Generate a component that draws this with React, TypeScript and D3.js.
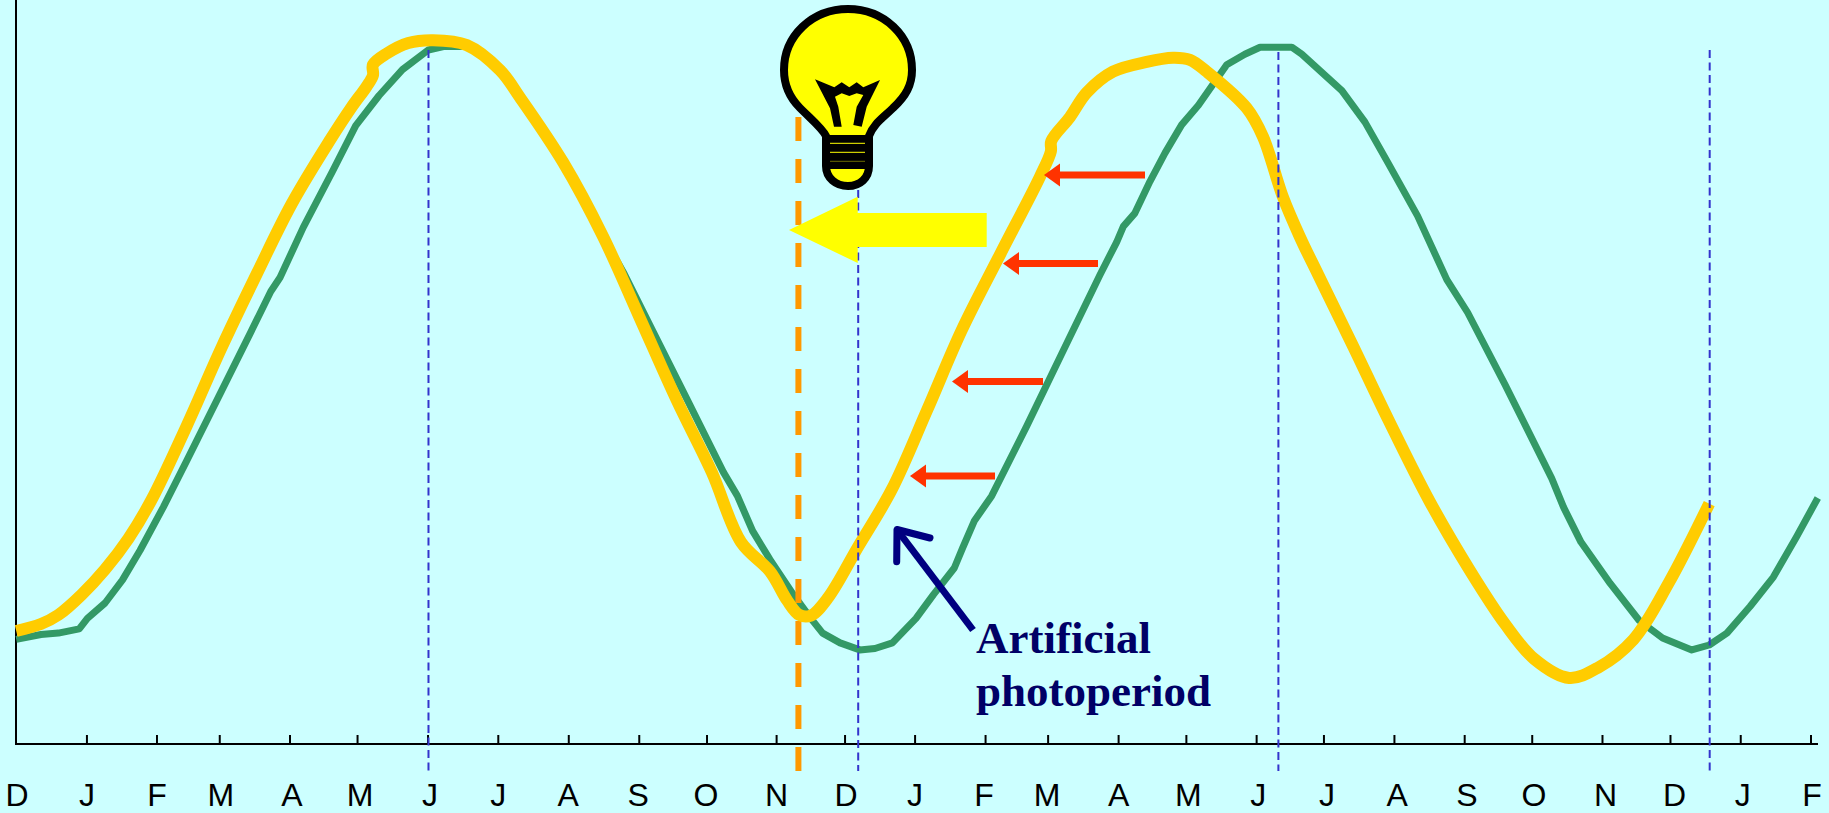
import React from "react";
import * as d3 from "d3";

// Days since the first December tick, and relative day length (0 = axis, 100 = peak)
const greenDays = [0.1,11,18.7,27.9,31.5,39.3,47,54.7,65,75.3,90.7,103.6,112.4,116.5,126.8,139.7,149.9,160.2,170.5,181.9,188.6,198.9,209.2,219.5,234.9,250.3,260.6,268.4,281.2,296.7,312.1,318.3,325,332.7,343,350.7,355.9,363.6,372.3,379,386.7,397.1,404.8,414,417.6,422.8,430.5,446,461.4,478.3,485.7,488.6,493.7,500.3,507,514.3,521.7,534.2,542.2,548.9,562.9,567.3,585,595.2,605.5,618.4,631.3,640.5,657,677.6,682.8,690.5,703.4,716.2,726.5,739.4,747.1,754.9,765.1,775.4,785.7,795];
const greenValues = [14.8,15.5,15.7,16.3,17.8,20,23.3,27.5,33.7,40.3,50.3,58.7,64.5,66.5,73.7,81.7,88.2,92.5,96.2,99,99.5,99.5,97.8,93.7,86.2,77.8,71.5,67,58.7,48.7,38.7,35.3,30.3,26.2,21.2,17.8,15.7,14.3,13.3,13.5,14.3,17.8,21.2,25,27.8,31.7,35.3,45.3,55.6,66.9,71.6,73.8,75.7,80.2,84.3,88.3,91.1,96.9,98.4,99.4,99.4,98.4,93.2,88.7,82.8,75.3,66.2,61.5,51.2,37.8,33.7,28.7,22.8,17.5,15,13.3,14,15.7,19.5,23.7,29.5,35];
const yellowDays = [0.1,11,18.7,29,39.3,49.6,59.9,75.3,90.7,106.2,121.6,138.5,148,154.7,157.5,157.5,163.6,173.1,184,198.9,213.6,222.4,241.5,259.1,275,291.5,307,319.9,332.7,340.4,345.6,350.7,358.4,371.5,386.4,401.8,417.3,434.2,451.8,456.6,456.8,465,472.4,484,498.9,510.5,518,525.4,543,550.2,559,566.5,574.7,590.1,605.5,623.6,641.6,657,669.9,685.3,698.2,713.7,729.1,747.1];
const yellowValues = [16,17,18.3,21.2,24.8,29.2,34.8,45.3,56.5,67,77,86.1,90.8,93.8,95.4,96.9,98.5,100,100.4,99.7,96.1,92.2,82.9,72.3,60.9,49,38.7,28.7,24.5,20.3,18.3,18.2,20.8,28,36.2,47.4,59,69.8,80.9,84.5,86,89.4,92.9,95.9,97.3,97.9,97.6,95.9,90.7,86.6,78,72.3,66.8,56.6,46.2,34.6,24.6,17,12,9.3,10.8,14.8,22.8,34.2];
const tickDays = [0,31.3,62.2,89.9,120.9,150.7,181.8,212.8,243.9,275,304.9,335.6,365.8,396.7,427.8,455.4,486.5,516.4,547.4,577.1,608.2,639.2,669,700,730,761,792];
const tickLabels = ["D","J","F","M","A","M","J","J","A","S","O","N","D","J","F","M","A","M","J","J","A","S","O","N","D","J","F"];
const labelNudges = [1,0,0,1,2,2.5,2,0,-0.7,-1,-1,0,1,0,-1.5,-1,0,2,1.5,3,2.7,2.3,1.7,3,4,2,1];
const solsticeDays = [182, 371.6, 557, 747.3];
const solsticeTops = [50, 190, 52, 50];
const lightsOnDay = 345;

const x = d3.scaleLinear().domain([0, 792]).range([16, 1811]);
const y = d3.scaleLinear().domain([0, 100]).range([743, 43]);

const pts = (xs: number[], ys: number[]) => xs.map((d, i) => [x(d), y(ys[i])] as [number, number]);
const greenLine = d3.line().curve(d3.curveLinear)(pts(greenDays, greenValues)) as string;
const yellowLine = d3.line().curve(d3.curveCatmullRom.alpha(0.5))(pts(yellowDays, yellowValues)) as string;

const redArrows = [
  { tip: 1044, tail: 1145, cy: 175 },
  { tip: 1003, tail: 1098, cy: 263.5 },
  { tip: 952, tail: 1043, cy: 381.5 },
  { tip: 910, tail: 995, cy: 476 },
];

const bulbBody = "M826 136 C822 128 812 120 800 108 C790 98 784 85 784 70 C784 36 812 9 848 9 C884 9 912 36 912 70 C912 85 906 96 893 108 C884 117 873 124 869 136 L869 166 C869 178 860 186 848 186 C836 186 826 178 826 166 Z";
const filament = "815,79.3 834.3,87.3 841.7,82.3 849.3,87.3 856.7,82.3 863.3,87.3 880,80 866.7,106.7 861.7,126.7 853.3,125 856.7,106.7 863.3,95 856.7,93.3 849.3,96 841.7,93.3 835,96.7 838.3,106.7 841.7,126.7 834,126.7 830,108.3";

export default function App() {
  return (
    <svg width={1829} height={813} style={{ position: "fixed", left: 0, top: 0, display: "block", background: "#ccffff" }}>
      <rect width={1829} height={813} fill="#ccffff" />
      <line x1={16} x2={16} y1={0} y2={745} stroke="#000" strokeWidth={2} />
      <line x1={15} x2={1818} y1={744} y2={744} stroke="#000" strokeWidth={2} />
      {tickDays.map((d, i) => (
        <g key={i}>
          {i > 0 && <line x1={x(d)} x2={x(d)} y1={735} y2={744} stroke="#000" strokeWidth={2} />}
          <text x={x(d) + labelNudges[i]} y={805.8} textAnchor="middle" fontFamily="'Liberation Sans', Arial, sans-serif" fontSize={32} fill="#000">{tickLabels[i]}</text>
        </g>
      ))}
      <path d={greenLine} fill="none" stroke="#339966" strokeWidth={7} strokeLinejoin="round" />
      <line x1={x(lightsOnDay) + 0.5} x2={x(lightsOnDay) + 0.5} y1={117} y2={771} stroke="#ff9900" strokeWidth={6} strokeDasharray="24 18" />
      <path d={yellowLine} fill="none" stroke="#ffcc00" strokeWidth={12} strokeLinejoin="round" />
      {solsticeDays.map((d, i) => (
        <line key={d} x1={x(d)} x2={x(d)} y1={solsticeTops[i]} y2={771} stroke="#3333cc" strokeWidth={2} strokeDasharray="8 4.5" />
      ))}
      {redArrows.map((a) => (
        <g key={a.cy} fill="#ff3300">
          <rect x={a.tip + 14} y={a.cy - 3.5} width={a.tail - a.tip - 14} height={7} />
          <polygon points={`${a.tip},${a.cy} ${a.tip + 16},${a.cy - 11.5} ${a.tip + 16},${a.cy + 11.5}`} />
        </g>
      ))}
      <polygon points="789,230 857.7,196.7 857.7,213 986.7,213 986.7,247 857.7,247 857.7,263" fill="#ffff00" />
      <g>
        <path d={bulbBody} fill="#ffff00" stroke="#000" strokeWidth={8} strokeLinejoin="round" />
        <polygon points={filament} fill="#000" />
        <rect x={826} y={135} width={43} height={34} fill="#000" />
        <rect x={830} y={142.8} width={35} height={1} fill="#ffff00" />
        <rect x={830} y={151.8} width={35} height={1} fill="#ffff00" />
        <rect x={830} y={160.8} width={35} height={1} fill="#6b6b00" />
      </g>
      <g stroke="#000080" strokeWidth={7} fill="none">
        <line x1={973} y1={630} x2={898} y2={531} />
        <path d="M930 538 L897 529.5 L896.7 561.7" strokeLinecap="round" strokeLinejoin="round" />
      </g>
      <g fontFamily="'Liberation Serif', 'Times New Roman', serif" fontWeight="bold" fontSize={45} fill="#000066">
        <text x={976} y={652.7}>Artificial</text>
        <text x={976} y={706}>photoperiod</text>
      </g>
    </svg>
  );
}
